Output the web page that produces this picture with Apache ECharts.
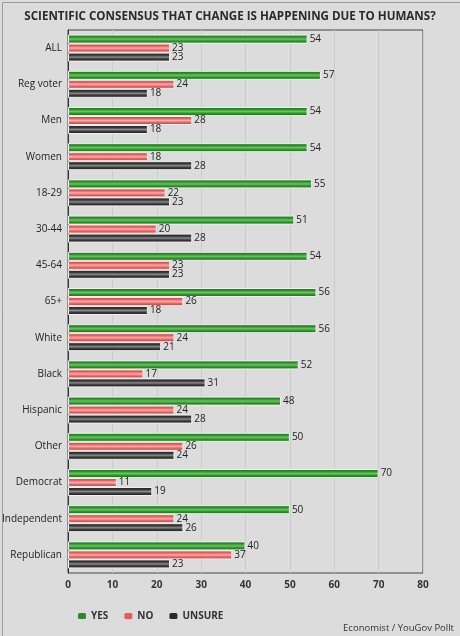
<!DOCTYPE html>
<html><head><meta charset="utf-8">
<script src="https://cdn.jsdelivr.net/npm/echarts@6/dist/echarts.min.js"></script>
<style>html,body{margin:0;padding:0;background:#dcdcdc;}#c{width:460px;height:636px;box-sizing:border-box;}</style>
</head><body><div id="c"></div>
<script>
const categories = ['ALL','Reg voter','Men','Women','18-29','30-44','45-64','65+','White','Black','Hispanic','Other','Democrat','Independent','Republican'];
const yesValues = [54,57,54,54,55,51,54,56,56,52,48,50,70,50,40];
const noValues = [23,24,28,18,22,20,23,26,24,17,24,26,11,24,37];
const unsureValues = [23,18,18,28,23,28,23,18,21,31,28,24,19,26,23];
const seriesNames = ['YES','NO','UNSURE'];
const titleText = 'SCIENTIFIC CONSENSUS THAT CHANGE IS HAPPENING DUE TO HUMANS?';
const sourceText = 'Economist / YouGov Pollt';

function grad(dark, mid, light){
  return new echarts.graphic.LinearGradient(0,0,0,1,[
    {offset:0,color:dark},{offset:0.3,color:mid},{offset:0.5,color:light},{offset:0.7,color:mid},{offset:1,color:dark}
  ]);
}
const fills = [grad('#156315','#2f952f','#6cc45c'), grad('#c83a3a','#ee6262','#ffb0b0'), grad('#1a1a1a','#3a3a3a','#8a8a8a')];
const legendColors = ['#2a8a2a','#e85a5a','#2a2a2a'];
const dataSets = [yesValues, noValues, unsureValues];
const font = '"Open Sans", sans-serif';

const chart = echarts.init(document.getElementById('c'), null, {renderer:'canvas'});
chart.setOption({
  backgroundColor:'#dcdcdc',
  animation:false,
  title:{text:titleText,left:'center',top:6,textStyle:{fontFamily:font,fontSize:11.6,fontWeight:'bold',color:'#2a2a2a'}},
  grid:{left:68,right:37,top:30,bottom:63,containLabel:false,outerBoundsMode:'none',show:true,borderColor:'#444',borderWidth:1,backgroundColor:'transparent'},
  xAxis:{type:'value',min:0,max:80,interval:10,
    axisLine:{show:false},axisTick:{show:false},
    splitLine:{lineStyle:{color:'#cbcbcb',width:1}},
    axisLabel:{fontFamily:font,fontSize:10,fontWeight:'bold',color:'#333',margin:7}},
  yAxis:{type:'category',data:categories,inverse:true,
    axisLine:{show:true,lineStyle:{color:'#333'}},axisTick:{show:false},
    axisLabel:{fontFamily:font,fontSize:10,color:'#222',margin:6}},
  legend:{left:73,top:606,itemWidth:8,itemHeight:6,itemGap:16,
    textStyle:{fontFamily:font,fontSize:10,fontWeight:'bold',color:'#333'},
    data:seriesNames.map((n,i)=>({name:n,itemStyle:{color:legendColors[i],borderWidth:0}}))},
  graphic:[
    {type:'text',right:6,bottom:3,style:{text:sourceText,fontFamily:font,fontSize:9.5,fill:'#333'}},
    {type:'rect',left:0,top:0,shape:{width:459,height:635},style:{fill:'none',stroke:'#9a9a9a',lineWidth:1},silent:true}
  ],
  series:seriesNames.map((n,i)=>({
    name:n,type:'bar',data:dataSets[i],barWidth:9,barGap:'0%',barCategoryGap:'20%',
    itemStyle:{color:fills[i],borderColor:'#f0f0f0',borderWidth:1},
    label:{show:true,position:'right',distance:2,fontFamily:font,fontSize:10,color:'#222'}
  }))
});
</script></body></html>
